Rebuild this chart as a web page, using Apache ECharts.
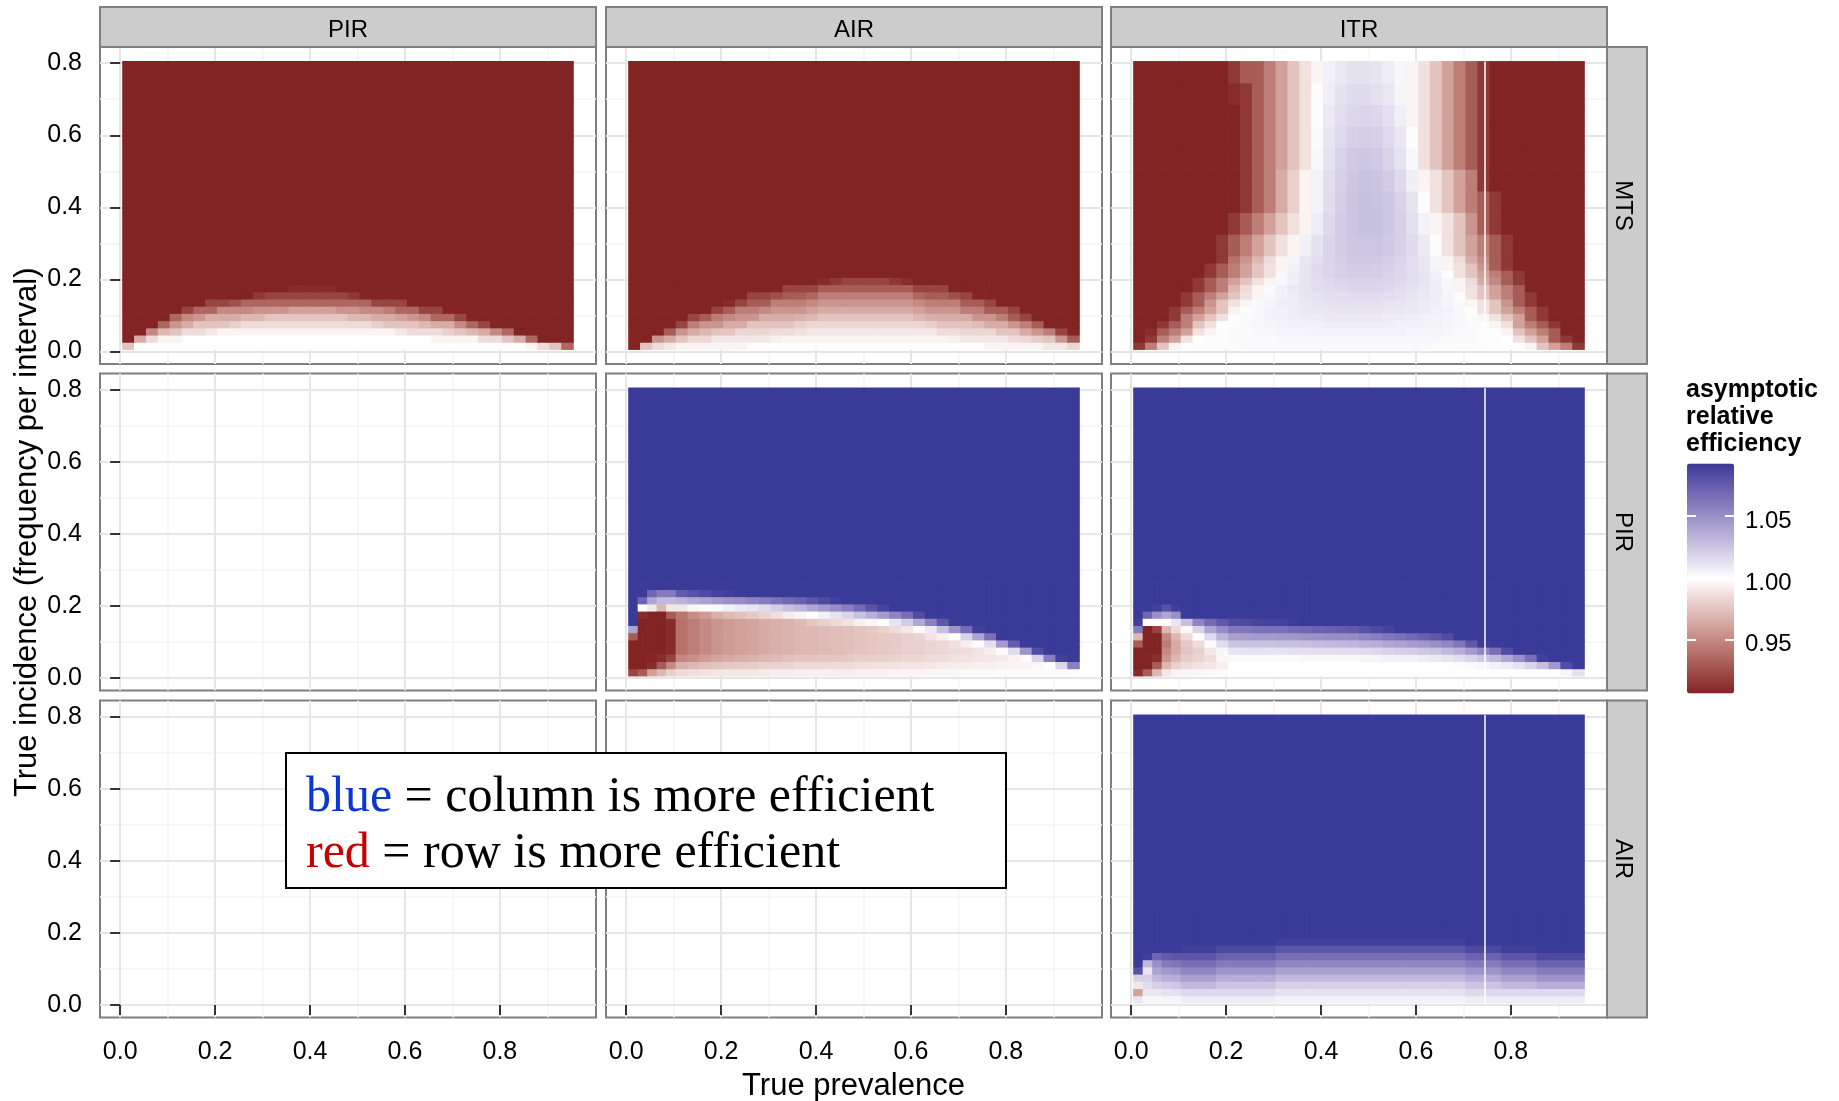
<!DOCTYPE html>
<html><head><meta charset="utf-8">
<script src="https://cdn.jsdelivr.net/npm/echarts@6/dist/echarts.min.js"></script>
<style>html,body{margin:0;padding:0;background:#fff}#chart{width:1839px;height:1101px}</style>
</head><body><div id="chart"></div>
<script>
// ---------------- data ----------------
const colLabels = ['PIR', 'AIR', 'ITR'];
const rowLabels = ['MTS', 'PIR', 'AIR'];
const xTicks = [0, 0.2, 0.4, 0.6, 0.8];
const xMinor = [0.1, 0.3, 0.5, 0.7, 0.9];
const yTicks = [0, 0.2, 0.4, 0.6, 0.8];
const yMinor = [0.1, 0.3, 0.5, 0.7];
const legendTicks = [0.95, 1.00, 1.05];
const legendTitle = ['asymptotic', 'relative', 'efficiency'];

// cell edges (true prevalence / true incidence)
const xEdgesFine = [0.005,0.03,0.055,0.08,0.105,0.13,0.155,0.18,0.205,0.23,0.255,0.28,0.305,0.33,0.355,0.38,0.405,0.43,0.455,0.48,0.505,0.53,0.555,0.58,0.605,0.63,0.655,0.68,0.705,0.73,0.755,0.78,0.805,0.83,0.855,0.88,0.905,0.93,0.955];
const xEdgesMixed = [0.005,0.025,0.045,0.065,0.085,0.105,0.13,0.155,0.18,0.205,0.23,0.255,0.28,0.305,0.33,0.355,0.38,0.405,0.43,0.455,0.48,0.505,0.53,0.555,0.58,0.605,0.63,0.655,0.68,0.705,0.73,0.755,0.78,0.805,0.83,0.855,0.88,0.905,0.93,0.955];
const yEdgesLow = [0.005,0.025,0.045,0.065,0.085,0.105,0.125,0.145,0.165,0.185,0.205,0.225,0.245,0.265];
const yEdgesHigh = [0.265,0.325,0.385,0.445,0.505,0.565,0.625,0.685,0.745,0.805];

// row MTS, column PIR : rows bottom -> top
const mtsPirRows = [
 [.975,1,1,1,1,1,1,1,1,1,1,1,1,1,1,1,1,1,1,1,1,1,1,1,1,1,1,1,1,1,1,1,1,1,.995,.985,.975,.935],
 [.9,.965,.985,.995,.995,1,1,1,1,1,1,1,1,1,1,1,1,1,1,1,1,1,1,1,1,1,.995,.995,.995,.995,.985,.985,.975,.965,.935,.9,.9,.9],
 [.9,.9,.95,.97,.975,.985,.985,.99,.995,.995,.995,.995,.995,.995,.995,.995,.995,.995,.995,.995,.995,.995,.995,.99,.985,.985,.985,.98,.975,.97,.965,.95,.935,.9,.9,.9,.9,.9],
 [.9,.9,.9,.935,.955,.965,.975,.975,.975,.98,.985,.985,.985,.985,.985,.985,.985,.985,.985,.985,.985,.98,.975,.975,.975,.97,.965,.965,.95,.935,.92,.9,.9,.9,.9,.9,.9,.9],
 [.9,.9,.9,.9,.935,.95,.955,.965,.965,.965,.97,.97,.975,.975,.975,.975,.975,.975,.975,.97,.97,.965,.965,.96,.955,.95,.935,.935,.92,.9,.9,.9,.9,.9,.9,.9,.9,.9],
 [.9,.9,.9,.9,.9,.92,.935,.935,.95,.95,.95,.955,.955,.955,.96,.96,.96,.96,.955,.955,.95,.95,.945,.935,.935,.92,.92,.9,.9,.9,.9,.9,.9,.9,.9,.9,.9,.9],
 [.9,.9,.9,.9,.9,.9,.9,.92,.92,.925,.935,.935,.935,.935,.935,.935,.935,.935,.935,.935,.935,.92,.92,.92,.9,.9,.9,.9,.9,.9,.9,.9,.9,.9,.9,.9,.9,.9],
 [.9,.9,.9,.9,.9,.9,.9,.9,.9,.9,.9,.915,.92,.92,.92,.92,.92,.92,.92,.915,.9,.9,.9,.9,.9,.9,.9,.9,.9,.9,.9,.9,.9,.9,.9,.9,.9,.9],
 [.9,.9,.9,.9,.9,.9,.9,.9,.9,.9,.9,.9,.9,.9,.91,.91,.91,.91,.9,.9,.9,.9,.9,.9,.9,.9,.9,.9,.9,.9,.9,.9,.9,.9,.9,.9,.9,.9]
];
const mtsPirTop = 0.9;

// row MTS, column AIR : rows bottom -> top
const mtsAirRows = [
 [.9,.975,.985,.99,.995,.995,.995,.995,.995,.995,1,1,1,1,1,1,1,1,1,1,1,1,1,1,1,1,1,1,1,1,.995,.995,.995,.995,.995,.99,.99,.983],
 [.9,.9,.955,.965,.975,.983,.983,.99,.99,.99,.99,.99,.993,.995,.995,.995,.995,.995,.995,.995,.995,.995,.995,.995,.995,.995,.995,.993,.99,.99,.99,.99,.985,.983,.978,.975,.955,.93],
 [.9,.9,.9,.93,.955,.965,.97,.975,.975,.983,.983,.983,.985,.985,.987,.99,.99,.99,.99,.99,.99,.99,.99,.99,.99,.99,.985,.985,.983,.983,.983,.975,.975,.965,.955,.945,.92,.9],
 [.9,.9,.9,.9,.92,.945,.955,.955,.965,.965,.975,.975,.975,.975,.98,.983,.983,.983,.983,.983,.983,.983,.983,.983,.983,.98,.975,.975,.975,.972,.965,.965,.955,.945,.93,.9,.9,.9],
 [.9,.9,.9,.9,.9,.92,.93,.945,.95,.955,.955,.965,.965,.965,.967,.97,.975,.975,.975,.975,.975,.975,.975,.975,.97,.967,.965,.965,.965,.955,.955,.945,.93,.92,.9,.9,.9,.9],
 [.9,.9,.9,.9,.9,.9,.9,.92,.93,.945,.945,.95,.955,.955,.955,.96,.965,.965,.965,.965,.965,.965,.965,.965,.96,.955,.955,.955,.945,.945,.93,.93,.92,.9,.9,.9,.9,.9],
 [.9,.9,.9,.9,.9,.9,.9,.9,.91,.92,.93,.93,.945,.945,.945,.95,.955,.955,.955,.955,.955,.955,.955,.955,.95,.945,.945,.945,.93,.93,.92,.9,.9,.9,.9,.9,.9,.9],
 [.9,.9,.9,.9,.9,.9,.9,.9,.9,.9,.92,.92,.925,.93,.93,.935,.945,.945,.945,.945,.945,.945,.945,.945,.935,.93,.93,.925,.92,.9,.9,.9,.9,.9,.9,.9,.9,.9],
 [.9,.9,.9,.9,.9,.9,.9,.9,.9,.9,.9,.9,.9,.92,.92,.92,.93,.93,.93,.93,.93,.93,.93,.93,.92,.92,.92,.9,.9,.9,.9,.9,.9,.9,.9,.9,.9,.9],
 [.9,.9,.9,.9,.9,.9,.9,.9,.9,.9,.9,.9,.9,.9,.9,.9,.91,.915,.92,.92,.92,.92,.915,.91,.9,.9,.9,.9,.9,.9,.9,.9,.9,.9,.9,.9,.9,.9]
];
const mtsAirTop = 0.9;

// row MTS, column ITR : rows bottom -> top, low band then high band
const mtsItrRows = [
 [.915,.945,.975,.995,1,1.001,1.001,1.001,1.001,1.002,1.002,1.002,1.002,1.002,1.002,1.002,1.002,1.002,1.002,1.002,1.002,1.002,1.002,1.002,1.002,1.001,1.001,1.001,1.001,1.001,1,1,1,.995,.975,.96,.945,.915],
 [.9,.915,.945,.96,.987,.999,1.001,1.001,1.002,1.002,1.002,1.002,1.003,1.003,1.003,1.003,1.003,1.003,1.003,1.003,1.003,1.003,1.003,1.003,1.003,1.003,1.002,1.002,1.002,1.001,1.001,1,.987,.975,.96,.93,.915,.9],
 [.9,.91,.93,.945,.96,.987,.995,1.001,1.002,1.002,1.003,1.003,1.004,1.004,1.004,1.005,1.005,1.005,1.005,1.005,1.005,1.005,1.005,1.004,1.004,1.004,1.003,1.002,1.002,1.001,1,.995,.975,.96,.945,.93,.9,.9],
 [.9,.9,.915,.93,.945,.975,.987,1,1.001,1.002,1.003,1.004,1.005,1.006,1.006,1.006,1.007,1.007,1.007,1.007,1.007,1.007,1.006,1.006,1.005,1.005,1.004,1.003,1.002,1.001,.995,.987,.96,.945,.93,.915,.9,.9],
 [.9,.9,.9,.915,.945,.96,.975,.987,1.001,1.002,1.003,1.005,1.006,1.007,1.008,1.008,1.009,1.009,1.009,1.009,1.009,1.008,1.008,1.007,1.006,1.005,1.004,1.003,1.001,.995,.987,.975,.96,.93,.915,.9,.9,.9],
 [.9,.9,.9,.915,.93,.945,.96,.975,.995,1.001,1.003,1.005,1.006,1.008,1.009,1.01,1.01,1.011,1.011,1.011,1.011,1.01,1.01,1.009,1.008,1.006,1.005,1.003,1.001,.987,.975,.96,.945,.93,.915,.9,.9,.9],
 [.9,.9,.9,.9,.915,.93,.955,.975,.987,.995,1.002,1.004,1.007,1.008,1.01,1.011,1.012,1.013,1.013,1.013,1.013,1.012,1.011,1.01,1.008,1.007,1.004,1.002,.995,.987,.975,.955,.93,.915,.9,.9,.9,.9],
 [.9,.9,.9,.9,.915,.93,.945,.96,.975,.987,.995,1.003,1.006,1.008,1.011,1.012,1.014,1.014,1.015,1.015,1.015,1.014,1.013,1.011,1.009,1.007,1.004,1.001,.987,.975,.96,.945,.93,.915,.9,.9,.9,.9],
 [.9,.9,.9,.9,.9,.915,.93,.945,.97,.985,.995,1.002,1.006,1.009,1.011,1.014,1.015,1.016,1.017,1.017,1.017,1.016,1.014,1.012,1.01,1.007,1.003,.995,.987,.975,.96,.945,.93,.9,.9,.9,.9,.9],
 [.9,.9,.9,.9,.9,.915,.93,.945,.96,.975,.987,.995,1.003,1.007,1.011,1.014,1.016,1.018,1.019,1.019,1.019,1.018,1.016,1.014,1.011,1.007,1.003,.995,.985,.965,.95,.93,.915,.9,.9,.9,.9,.9],
 [.9,.9,.9,.9,.9,.9,.915,.93,.945,.96,.975,.987,1.002,1.007,1.011,1.015,1.018,1.02,1.021,1.021,1.021,1.019,1.017,1.014,1.011,1.006,1,.987,.975,.96,.945,.93,.915,.9,.9,.9,.9,.9],
 [.9,.9,.9,.9,.9,.9,.915,.93,.945,.96,.975,.987,.995,1.005,1.011,1.015,1.018,1.02,1.022,1.022,1.021,1.02,1.017,1.014,1.01,1.004,.995,.987,.975,.955,.93,.915,.9,.9,.9,.9,.9,.9],
 [.9,.9,.9,.9,.9,.9,.9,.915,.94,.955,.97,.985,.995,1.004,1.01,1.014,1.018,1.021,1.023,1.023,1.023,1.021,1.018,1.014,1.01,1.004,.995,.985,.965,.95,.93,.915,.9,.9,.9,.9,.9,.9]
];
const mtsItrHighRows = [
 [.9,.9,.9,.9,.9,.9,.9,.915,.93,.945,.96,.975,.987,.995,1.006,1.012,1.018,1.022,1.024,1.025,1.025,1.023,1.02,1.015,1.009,1.001,.987,.975,.96,.945,.93,.915,.9,.9,.9,.9,.9,.9],
 [.9,.9,.9,.9,.9,.9,.9,.9,.915,.93,.945,.96,.975,.987,.995,1.008,1.016,1.022,1.025,1.027,1.027,1.024,1.02,1.013,1.005,.995,.987,.975,.955,.93,.915,.9,.9,.9,.9,.9,.9,.9],
 [.9,.9,.9,.9,.9,.9,.9,.9,.9,.915,.93,.945,.965,.98,.995,1.005,1.014,1.021,1.025,1.027,1.026,1.024,1.019,1.011,1.001,.987,.975,.96,.945,.93,.915,.9,.9,.9,.9,.9,.9,.9],
 [.9,.9,.9,.9,.9,.9,.9,.9,.9,.915,.93,.945,.965,.98,.995,1.005,1.014,1.02,1.024,1.026,1.025,1.022,1.016,1.007,.995,.987,.975,.96,.945,.915,.9,.9,.9,.9,.9,.9,.9,.9],
 [.9,.9,.9,.9,.9,.9,.9,.9,.9,.915,.93,.945,.96,.975,.987,1.003,1.012,1.019,1.023,1.024,1.023,1.019,1.012,1.003,.987,.975,.96,.945,.93,.915,.9,.9,.9,.9,.9,.9,.9,.9],
 [.9,.9,.9,.9,.9,.9,.9,.9,.9,.915,.93,.945,.96,.975,.987,1.002,1.011,1.016,1.02,1.021,1.02,1.016,1.01,1.001,.987,.975,.96,.945,.93,.915,.9,.9,.9,.9,.9,.9,.9,.9],
 [.9,.9,.9,.9,.9,.9,.9,.9,.9,.915,.93,.945,.96,.975,.987,1.001,1.009,1.014,1.017,1.018,1.017,1.013,1.007,.995,.987,.975,.96,.945,.93,.915,.9,.9,.9,.9,.9,.9,.9,.9],
 [.9,.9,.9,.9,.9,.9,.9,.9,.91,.915,.93,.945,.96,.975,.987,1.001,1.007,1.012,1.015,1.015,1.013,1.01,1.004,.995,.987,.975,.96,.945,.93,.915,.9,.9,.9,.9,.9,.9,.9,.9],
 [.9,.9,.9,.9,.9,.9,.9,.9,.915,.93,.93,.945,.96,.975,.987,.995,1.006,1.009,1.012,1.012,1.011,1.008,1.003,.995,.987,.975,.96,.945,.93,.915,.9,.9,.9,.9,.9,.9,.9,.9]
];

// row PIR, column AIR : columns left -> right, each bottom -> top
const pirAirCols = [
 [.92,.9,.9,.9,.9,.93,1.04,1.1,1.1,1.1,1.1,1.1,1.1],
 [.93,.9,.9,.9,.9,.9,.9,.9,.91,1.0,1.07,1.1,1.1],
 [.96,.91,.9,.9,.9,.9,.9,.9,.9,.99,1.04,1.07,1.1],
 [.97,.93,.91,.9,.9,.9,.9,.9,.9,.97,1.03,1.06,1.1],
 [.98,.95,.92,.91,.91,.91,.91,.91,.93,.99,1.03,1.06,1.1],
 [.985,.967,.949,.94,.94,.94,.94,.94,.942,.99,1.033,1.075,1.1],
 [.986,.97,.953,.945,.945,.945,.945,.945,.952,.996,1.038,1.08,1.1],
 [.988,.973,.958,.95,.95,.95,.95,.95,.958,.998,1.041,1.084,1.1],
 [.989,.975,.962,.955,.955,.955,.955,.955,.966,1.002,1.045,1.088,1.1],
 [.99,.977,.964,.958,.958,.958,.958,.958,.971,1.006,1.049,1.09,1.1],
 [.99,.978,.966,.96,.96,.96,.96,.96,.974,1.009,1.051,1.092,1.1],
 [.99,.979,.968,.962,.962,.962,.962,.962,.977,1.011,1.055,1.1,1.1],
 [.991,.981,.97,.965,.965,.965,.965,.965,.982,1.015,1.059,1.1,1.1],
 [.992,.981,.971,.966,.966,.966,.966,.966,.986,1.021,1.064,1.1,1.1],
 [.992,.982,.973,.968,.968,.968,.968,.968,.991,1.027,1.069,1.1,1.1],
 [.993,.984,.975,.97,.97,.97,.97,.971,.995,1.032,1.072,1.1,1.1],
 [.993,.984,.975,.97,.97,.97,.97,.976,1.0,1.039,1.078,1.1,1.1],
 [.993,.984,.976,.971,.971,.971,.971,.98,1.006,1.045,1.084,1.1,1.1],
 [.993,.985,.976,.972,.972,.972,.972,.984,1.012,1.051,1.09,1.1,1.1],
 [.993,.985,.977,.973,.973,.973,.973,.988,1.018,1.058,1.1,1.1,1.1],
 [.994,.986,.979,.975,.975,.975,.975,.993,1.027,1.068,1.1,1.1,1.1],
 [.994,.987,.98,.976,.976,.976,.977,.996,1.035,1.079,1.1,1.1,1.1],
 [.994,.987,.98,.977,.977,.977,.981,1.0,1.044,1.088,1.1,1.1,1.1],
 [.995,.988,.981,.978,.978,.978,.985,1.011,1.055,1.095,1.1,1.1,1.1],
 [.995,.989,.983,.98,.98,.98,.99,1.022,1.066,1.1,1.1,1.1,1.1],
 [.995,.989,.983,.98,.98,.982,.998,1.038,1.083,1.1,1.1,1.1,1.1],
 [.996,.99,.985,.982,.982,.988,1.009,1.057,1.095,1.1,1.1,1.1,1.1],
 [.996,.991,.986,.983,.983,.993,1.027,1.077,1.1,1.1,1.1,1.1,1.1],
 [.996,.992,.987,.985,.987,1.0,1.048,1.092,1.1,1.1,1.1,1.1,1.1],
 [.997,.992,.988,.986,.993,1.019,1.068,1.1,1.1,1.1,1.1,1.1,1.1],
 [.997,.993,.989,.988,.998,1.04,1.09,1.1,1.1,1.1,1.1,1.1,1.1],
 [.997,.993,.99,.993,1.013,1.066,1.1,1.1,1.1,1.1,1.1,1.1,1.1],
 [.998,.994,.991,.998,1.044,1.095,1.1,1.1,1.1,1.1,1.1,1.1,1.1],
 [.998,.995,.994,1.015,1.075,1.1,1.1,1.1,1.1,1.1,1.1,1.1,1.1],
 [.998,.995,.998,1.047,1.095,1.1,1.1,1.1,1.1,1.1,1.1,1.1,1.1],
 [.998,.996,1.019,1.083,1.1,1.1,1.1,1.1,1.1,1.1,1.1,1.1,1.1],
 [.998,.999,1.058,1.1,1.1,1.1,1.1,1.1,1.1,1.1,1.1,1.1,1.1],
 [.998,1.017,1.09,1.1,1.1,1.1,1.1,1.1,1.1,1.1,1.1,1.1,1.1],
 [.999,1.057,1.1,1.1,1.1,1.1,1.1,1.1,1.1,1.1,1.1,1.1,1.1]
];
const pirAirTop = 1.1;

// row PIR, column ITR : columns left -> right, each bottom -> top
const pirItrCols = [
 [.91,.9,.9,.9,.93,.97,1.06,1.09,1.1,1.1,1.1,1.1,1.1],
 [.93,.9,.9,.9,.9,.9,.9,1.0,1.07,1.1,1.1,1.1,1.1],
 [.97,.93,.91,.9,.9,.9,.92,1.0,1.05,1.09,1.1,1.1,1.1],
 [.99,.97,.955,.95,.945,.95,.97,1.0,1.04,1.08,1.1,1.1,1.1],
 [.995,.98,.97,.965,.965,.97,.985,1.01,1.05,1.09,1.1,1.1,1.1],
 [.995,.985,.978,.975,.977,.985,.997,1.027,1.095,1.1,1.1,1.1,1.1],
 [.996,.988,.982,.98,.985,1.0,1.019,1.055,1.1,1.1,1.1,1.1,1.1],
 [.997,.99,.986,.99,1.001,1.016,1.04,1.068,1.1,1.1,1.1,1.1,1.1],
 [.998,.993,.996,1.003,1.015,1.032,1.052,1.077,1.1,1.1,1.1,1.1,1.1],
 [.999,.999,1.002,1.011,1.025,1.042,1.061,1.083,1.1,1.1,1.1,1.1,1.1],
 [1,1,1.002,1.012,1.026,1.043,1.062,1.084,1.1,1.1,1.1,1.1,1.1],
 [1,1,1.002,1.012,1.026,1.044,1.064,1.087,1.1,1.1,1.1,1.1,1.1],
 [1,1,1.002,1.012,1.026,1.044,1.065,1.088,1.1,1.1,1.1,1.1,1.1],
 [1,1,1.002,1.012,1.027,1.045,1.065,1.088,1.1,1.1,1.1,1.1,1.1],
 [1,1,1.002,1.013,1.027,1.046,1.068,1.091,1.1,1.1,1.1,1.1,1.1],
 [1,1,1.003,1.013,1.028,1.048,1.069,1.094,1.1,1.1,1.1,1.1,1.1],
 [1,1,1.003,1.014,1.029,1.049,1.072,1.095,1.1,1.1,1.1,1.1,1.1],
 [1,1,1.003,1.014,1.03,1.05,1.073,1.097,1.1,1.1,1.1,1.1,1.1],
 [1,1,1.003,1.015,1.031,1.051,1.074,1.1,1.1,1.1,1.1,1.1,1.1],
 [1,1,1.003,1.015,1.032,1.052,1.076,1.1,1.1,1.1,1.1,1.1,1.1],
 [1,1,1.004,1.016,1.034,1.055,1.08,1.1,1.1,1.1,1.1,1.1,1.1],
 [1,1,1.004,1.017,1.035,1.058,1.084,1.1,1.1,1.1,1.1,1.1,1.1],
 [1,1,1.005,1.019,1.039,1.062,1.088,1.1,1.1,1.1,1.1,1.1,1.1],
 [1,1,1.006,1.021,1.041,1.065,1.093,1.1,1.1,1.1,1.1,1.1,1.1],
 [1,1,1.006,1.022,1.044,1.069,1.098,1.1,1.1,1.1,1.1,1.1,1.1],
 [1,1,1.008,1.024,1.046,1.073,1.1,1.1,1.1,1.1,1.1,1.1,1.1],
 [1,1,1.009,1.026,1.05,1.077,1.1,1.1,1.1,1.1,1.1,1.1,1.1],
 [1,1,1.011,1.03,1.054,1.083,1.1,1.1,1.1,1.1,1.1,1.1,1.1],
 [1,1.001,1.014,1.035,1.062,1.095,1.1,1.1,1.1,1.1,1.1,1.1,1.1],
 [1,1.002,1.018,1.044,1.077,1.1,1.1,1.1,1.1,1.1,1.1,1.1,1.1],
 [1,1.003,1.023,1.054,1.091,1.1,1.1,1.1,1.1,1.1,1.1,1.1,1.1],
 [1,1.005,1.03,1.065,1.1,1.1,1.1,1.1,1.1,1.1,1.1,1.1,1.1],
 [1,1.008,1.039,1.083,1.1,1.1,1.1,1.1,1.1,1.1,1.1,1.1,1.1],
 [1,1.012,1.05,1.097,1.1,1.1,1.1,1.1,1.1,1.1,1.1,1.1,1.1],
 [1,1.019,1.066,1.1,1.1,1.1,1.1,1.1,1.1,1.1,1.1,1.1,1.1],
 [1,1.028,1.09,1.1,1.1,1.1,1.1,1.1,1.1,1.1,1.1,1.1,1.1],
 [1,1.046,1.1,1.1,1.1,1.1,1.1,1.1,1.1,1.1,1.1,1.1,1.1],
 [1.004,1.083,1.1,1.1,1.1,1.1,1.1,1.1,1.1,1.1,1.1,1.1,1.1],
 [1.012,1.098,1.1,1.1,1.1,1.1,1.1,1.1,1.1,1.1,1.1,1.1,1.1]
];
const pirItrTop = 1.1;

// row AIR, column ITR : columns left -> right, each bottom -> top
const airItrCols = [
 [1.01,.96,.99,1.02,1.08,1.1,1.1,1.1,1.1,1.1,1.1,1.1,1.1],
 [1.003,1.01,1.015,1.02,1.01,1.03,1.09,1.1,1.1,1.1,1.1,1.1,1.1],
 [1.003,1.01,1.02,1.03,1.04,1.05,1.07,1.1,1.1,1.1,1.1,1.1,1.1],
 [1.004,1.012,1.022,1.035,1.045,1.06,1.075,1.1,1.1,1.1,1.1,1.1,1.1],
 [1.004,1.013,1.024,1.036,1.048,1.062,1.078,1.1,1.1,1.1,1.1,1.1,1.1],
 [1.008,1.016,1.03,1.042,1.054,1.066,1.078,1.09,1.1,1.1,1.1,1.1,1.1],
 [1.008,1.016,1.03,1.042,1.054,1.066,1.078,1.09,1.1,1.1,1.1,1.1,1.1],
 [1.008,1.016,1.03,1.042,1.054,1.066,1.078,1.09,1.1,1.1,1.1,1.1,1.1],
 [1.008,1.016,1.025,1.036,1.048,1.06,1.072,1.085,1.1,1.1,1.1,1.1,1.1],
 [1.008,1.016,1.025,1.036,1.048,1.06,1.072,1.085,1.1,1.1,1.1,1.1,1.1],
 [1.008,1.016,1.025,1.036,1.048,1.06,1.072,1.085,1.1,1.1,1.1,1.1,1.1],
 [1.008,1.016,1.025,1.036,1.048,1.06,1.072,1.085,1.095,1.1,1.1,1.1,1.1],
 [1.008,1.016,1.025,1.036,1.048,1.06,1.072,1.085,1.095,1.1,1.1,1.1,1.1],
 [1.005,1.012,1.02,1.03,1.042,1.054,1.066,1.078,1.09,1.1,1.1,1.1,1.1],
 [1.005,1.012,1.02,1.03,1.042,1.054,1.066,1.078,1.09,1.1,1.1,1.1,1.1],
 [1.005,1.012,1.02,1.03,1.042,1.054,1.066,1.078,1.09,1.1,1.1,1.1,1.1],
 [1.005,1.012,1.02,1.03,1.042,1.054,1.066,1.078,1.09,1.1,1.1,1.1,1.1],
 [1.005,1.012,1.02,1.03,1.042,1.054,1.066,1.078,1.09,1.1,1.1,1.1,1.1],
 [1.005,1.012,1.02,1.03,1.042,1.054,1.066,1.078,1.09,1.1,1.1,1.1,1.1],
 [1.005,1.012,1.02,1.03,1.042,1.054,1.066,1.078,1.09,1.1,1.1,1.1,1.1],
 [1.005,1.012,1.02,1.03,1.042,1.054,1.066,1.078,1.09,1.1,1.1,1.1,1.1],
 [1.005,1.012,1.02,1.03,1.042,1.054,1.066,1.078,1.09,1.1,1.1,1.1,1.1],
 [1.005,1.012,1.02,1.03,1.042,1.054,1.066,1.078,1.09,1.1,1.1,1.1,1.1],
 [1.005,1.012,1.02,1.03,1.042,1.054,1.066,1.078,1.09,1.1,1.1,1.1,1.1],
 [1.005,1.012,1.02,1.03,1.042,1.054,1.066,1.078,1.09,1.1,1.1,1.1,1.1],
 [1.005,1.012,1.02,1.03,1.042,1.054,1.066,1.078,1.09,1.1,1.1,1.1,1.1],
 [1.005,1.012,1.02,1.03,1.042,1.054,1.066,1.078,1.09,1.1,1.1,1.1,1.1],
 [1.005,1.012,1.02,1.03,1.042,1.054,1.066,1.078,1.09,1.1,1.1,1.1,1.1],
 [1.005,1.012,1.02,1.03,1.042,1.054,1.066,1.078,1.09,1.1,1.1,1.1,1.1],
 [1.008,1.016,1.025,1.036,1.048,1.06,1.072,1.085,1.095,1.1,1.1,1.1,1.1],
 [1.008,1.016,1.025,1.036,1.048,1.06,1.072,1.085,1.1,1.1,1.1,1.1,1.1],
 [1.008,1.016,1.025,1.036,1.048,1.06,1.072,1.085,1.1,1.1,1.1,1.1,1.1],
 [1.008,1.016,1.03,1.042,1.054,1.066,1.078,1.09,1.1,1.1,1.1,1.1,1.1],
 [1.008,1.016,1.03,1.042,1.054,1.066,1.078,1.09,1.1,1.1,1.1,1.1,1.1],
 [1.008,1.016,1.03,1.042,1.054,1.066,1.078,1.09,1.1,1.1,1.1,1.1,1.1],
 [1.008,1.016,1.036,1.048,1.06,1.072,1.085,1.095,1.1,1.1,1.1,1.1,1.1],
 [1.008,1.016,1.036,1.048,1.06,1.072,1.085,1.1,1.1,1.1,1.1,1.1,1.1],
 [1.008,1.016,1.036,1.048,1.06,1.072,1.085,1.1,1.1,1.1,1.1,1.1,1.1],
 [1.008,1.016,1.036,1.048,1.06,1.072,1.085,1.1,1.1,1.1,1.1,1.1,1.1]
];
const airItrTop = 1.1;

// missing tile column seen in the ITR column panels (true prevalence)
const gapPrevalence = 0.745;

// ---------------- layout / style ----------------
const FONT = "'Liberation Sans', Arial, Helvetica, sans-serif";
const SERIF = "'Liberation Serif', 'Times New Roman', serif";
const GL = [100, 606, 1111];
const GT = [47, 373.5, 700.5];
const GW = 496, GH = 317;
const X_MIN = -0.0425, X_MAX = 1.0025, Y_MIN = -0.035, Y_MAX = 0.845;
const VMIN = 0.9065, VMAX = 1.0925;

const panels = [
  { r: 0, c: 0, xe: xEdgesFine, rows: mtsPirRows, top: mtsPirTop },
  { r: 0, c: 1, xe: xEdgesFine, rows: mtsAirRows, top: mtsAirTop },
  { r: 0, c: 2, xe: xEdgesFine, rows: mtsItrRows, high: mtsItrHighRows },
  { r: 1, c: 1, xe: xEdgesMixed, cols: pirAirCols, top: pirAirTop },
  { r: 1, c: 2, xe: xEdgesMixed, cols: pirItrCols, top: pirItrTop },
  { r: 2, c: 2, xe: xEdgesMixed, cols: airItrCols, top: airItrTop }
];

function clampV(v) { return Math.max(VMIN, Math.min(VMAX, v)); }

function buildCells(p) {
  const out = [], xe = p.xe;
  const push = (i, y0, y1, v) => { if (xe[i + 1] !== undefined) out.push([xe[i], xe[i + 1], y0, y1, clampV(v)]); };
  let nLow = 0;
  if (p.rows) {
    nLow = p.rows.length;
    p.rows.forEach((row, j) => row.forEach((v, i) => push(i, yEdgesLow[j], yEdgesLow[j + 1], v)));
  }
  if (p.cols) {
    nLow = p.cols[0].length;
    p.cols.forEach((col, i) => col.forEach((v, j) => push(i, yEdgesLow[j], yEdgesLow[j + 1], v)));
  }
  if (p.high) {
    p.high.forEach((row, j) => row.forEach((v, i) => push(i, yEdgesHigh[j], yEdgesHigh[j + 1], v)));
  } else {
    out.push([xe[0], xe[xe.length - 1], yEdgesLow[nLow], yEdgesHigh[yEdgesHigh.length - 1], clampV(p.top)]);
  }
  return out;
}

function renderCell(params, api) {
  const p0 = api.coord([api.value(0), api.value(2)]);
  const p1 = api.coord([api.value(1), api.value(3)]);
  const x = Math.min(p0[0], p1[0]), y = Math.min(p0[1], p1[1]);
  const w = Math.abs(p1[0] - p0[0]), h = Math.abs(p1[1] - p0[1]);
  return { type: 'rect', shape: { x: x - 0.35, y: y - 0.35, width: w + 0.7, height: h + 0.7 },
           style: { fill: api.visual('color') } };
}

const grids = [], xAxes = [], yAxes = [];
for (let r = 0; r < 3; r++) for (let c = 0; c < 3; c++) {
  const g = r * 3 + c;
  grids.push({ left: GL[c], top: GT[r], width: GW, height: GH, show: true,
    borderColor: '#7f7f7f', borderWidth: 2, backgroundColor: '#fff' });
  const showX = r === 2, showY = c === 0;
  xAxes.push({ type: 'value', gridIndex: g, min: X_MIN, max: X_MAX, position: 'bottom', z: 1,
    axisLine: { show: false },
    axisTick: { show: showX, customValues: xTicks, length: 10, lineStyle: { color: '#333', width: 2 } },
    axisLabel: { show: showX, customValues: xTicks, formatter: v => v.toFixed(1), fontSize: 25,
      fontFamily: FONT, color: '#000', margin: 22 },
    splitLine: { show: true, lineStyle: { color: '#e6e6e6', width: 2 } } });
  xAxes.push({ type: 'value', gridIndex: g, min: X_MIN, max: X_MAX, position: 'top', z: 0,
    axisLine: { show: false }, axisTick: { show: false, customValues: xMinor },
    axisLabel: { show: false, customValues: xMinor },
    splitLine: { show: true, lineStyle: { color: '#f4f4f4', width: 1.5 } } });
  yAxes.push({ type: 'value', gridIndex: g, min: Y_MIN, max: Y_MAX, position: 'left', z: 1,
    axisLine: { show: false },
    axisTick: { show: showY, customValues: yTicks, length: 10, lineStyle: { color: '#333', width: 2 } },
    axisLabel: { show: showY, customValues: yTicks, formatter: v => v.toFixed(1), fontSize: 25,
      fontFamily: FONT, color: '#000', margin: 18 },
    splitLine: { show: true, lineStyle: { color: '#e6e6e6', width: 2 } } });
  yAxes.push({ type: 'value', gridIndex: g, min: Y_MIN, max: Y_MAX, position: 'right', z: 0,
    axisLine: { show: false }, axisTick: { show: false, customValues: yMinor },
    axisLabel: { show: false, customValues: yMinor },
    splitLine: { show: true, lineStyle: { color: '#f4f4f4', width: 1.5 } } });
}
// legend colour-bar grid (index 9)
const LB = { left: 1687, top: 463.5, width: 47, height: 230 };
grids.push({ left: LB.left, top: LB.top, width: LB.width, height: LB.height, show: false });
xAxes.push({ type: 'value', gridIndex: 9, show: false, min: 0, max: 1 });
yAxes.push({ type: 'value', gridIndex: 9, min: VMIN, max: VMAX, position: 'left', z: 10,
  axisLine: { show: false }, splitLine: { show: false }, axisLabel: { show: false, customValues: legendTicks },
  axisTick: { show: true, inside: true, length: 9, customValues: legendTicks, lineStyle: { color: '#fff', width: 2 } } });
yAxes.push({ type: 'value', gridIndex: 9, min: VMIN, max: VMAX, position: 'right', z: 10,
  axisLine: { show: false }, splitLine: { show: false },
  axisLabel: { show: true, customValues: legendTicks, formatter: v => v.toFixed(2), fontSize: 24,
    fontFamily: FONT, color: '#000', margin: 11, verticalAlign: 'top', lineHeight: 10 },
  axisTick: { show: true, inside: true, length: 9, customValues: legendTicks, lineStyle: { color: '#fff', width: 2 } } });

const series = panels.map(p => {
  const g = p.r * 3 + p.c;
  const s = { type: 'custom', xAxisIndex: 2 * g, yAxisIndex: 2 * g, renderItem: renderCell,
    data: buildCells(p), encode: { x: [0, 1], y: [2, 3] }, silent: true, animation: false, z: 2 };
  if (p.c === 2) {
    s.markLine = { silent: true, symbol: 'none', animation: false, label: { show: false },
      lineStyle: { color: '#ffffff', width: 1.5, type: 'solid', opacity: 1 },
      data: [[{ coord: [gapPrevalence, yEdgesLow[0]] }, { coord: [gapPrevalence, yEdgesHigh[yEdgesHigh.length - 1]] }]] };
  }
  return s;
});

// decorations: strips, titles, legend title, annotation
const graphics = [];
colLabels.forEach((t, c) => {
  graphics.push({ type: 'rect', z: 50, shape: { x: GL[c], y: 7, width: GW, height: GT[0] - 7 },
    style: { fill: '#cccccc', stroke: '#7f7f7f', lineWidth: 2 } });
  graphics.push({ type: 'text', z: 51, x: GL[c] + GW / 2, y: 30,
    style: { text: t, fontSize: 24, fontFamily: FONT, fill: '#000', align: 'center', verticalAlign: 'middle' } });
});
const SX = GL[2] + GW;
rowLabels.forEach((t, r) => {
  graphics.push({ type: 'rect', z: 50, shape: { x: SX, y: GT[r], width: 40, height: GH },
    style: { fill: '#cccccc', stroke: '#7f7f7f', lineWidth: 2 } });
  graphics.push({ type: 'text', z: 51, x: SX + 16, y: GT[r] + GH / 2, rotation: -Math.PI / 2,
    style: { text: t, fontSize: 24, fontFamily: FONT, fill: '#000', align: 'center', verticalAlign: 'middle' } });
});
graphics.push({ type: 'text', z: 51, x: (GL[0] + SX) / 2, y: 1086.5,
  style: { text: 'True prevalence', fontSize: 31, fontFamily: FONT, fill: '#000', align: 'center', verticalAlign: 'middle' } });
graphics.push({ type: 'text', z: 51, x: 27, y: (GT[0] + GT[2] + GH) / 2, rotation: Math.PI / 2,
  style: { text: 'True incidence (frequency per interval)', fontSize: 31, fontFamily: FONT, fill: '#000', align: 'center', verticalAlign: 'middle' } });
legendTitle.forEach((t, i) => {
  graphics.push({ type: 'text', z: 51, x: 1686, y: 390.5 + i * 27,
    style: { text: t, fontSize: 25, fontWeight: 'bold', fontFamily: FONT, fill: '#000', align: 'left', verticalAlign: 'middle' } });
});
graphics.push({ type: 'rect', z: 60, shape: { x: 286, y: 753, width: 720, height: 135 },
  style: { fill: '#ffffff', stroke: '#000000', lineWidth: 2 } });
graphics.push({ type: 'text', z: 61, x: 306, y: 797.5,
  style: { text: '{b|blue} = column is more efficient', fontSize: 50, fontFamily: SERIF, fill: '#000',
    align: 'left', verticalAlign: 'middle',
    rich: { b: { fill: '#0a36d6', fontSize: 50, fontFamily: SERIF } } } });
graphics.push({ type: 'text', z: 61, x: 306, y: 854,
  style: { text: '{r|red} = row is more efficient', fontSize: 50, fontFamily: SERIF, fill: '#000',
    align: 'left', verticalAlign: 'middle',
    rich: { r: { fill: '#c80000', fontSize: 50, fontFamily: SERIF } } } });

const chart = echarts.init(document.getElementById('chart'), null, { renderer: 'canvas' });
chart.setOption({
  animation: false,
  backgroundColor: '#ffffff',
  textStyle: { fontFamily: FONT },
  grid: grids,
  xAxis: xAxes,
  yAxis: yAxes,
  visualMap: {
    type: 'continuous', min: VMIN, max: VMAX, dimension: 4, seriesIndex: [0, 1, 2, 3, 4, 5],
    calculable: false, hoverLink: false, orient: 'vertical', padding: 0,
    left: LB.left, top: LB.top, itemWidth: LB.width, itemHeight: LB.height,
    inRange: { color: ['#832424', 'rgb(167,91,84)', 'rgb(200,144,137)', 'rgb(229,199,195)', '#ffffff',
                       'rgb(208,202,229)', 'rgb(161,151,204)', 'rgb(113,103,178)', '#3a3a98'] }
  },
  series: series,
  graphic: graphics
});
</script></body></html>
